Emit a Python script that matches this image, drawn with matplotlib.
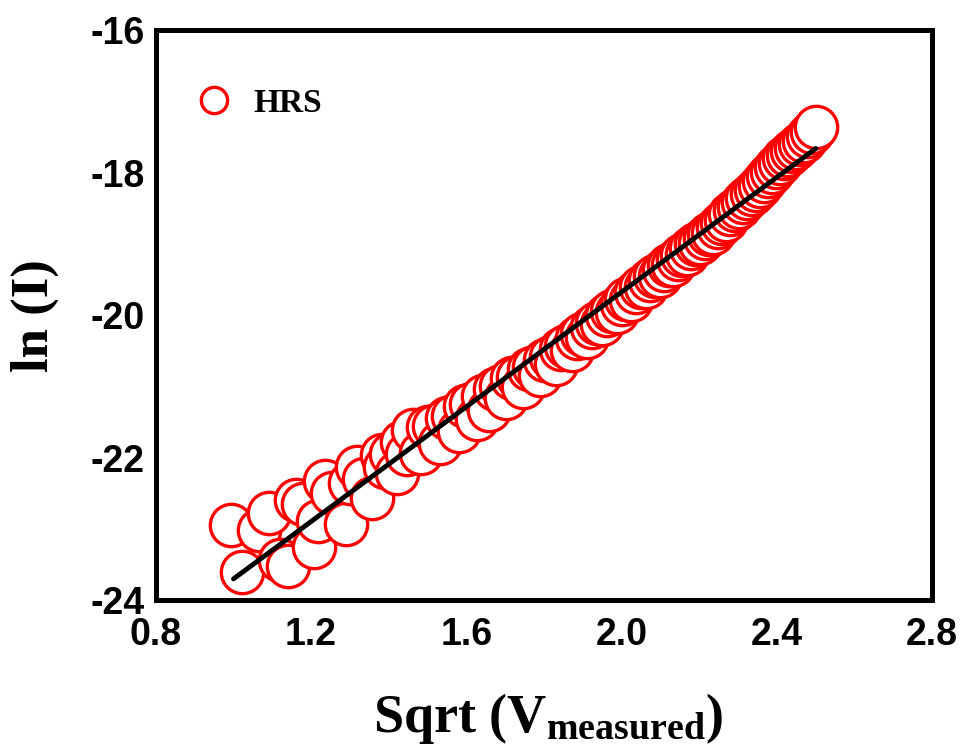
import matplotlib
matplotlib.use('Agg')
import matplotlib.pyplot as plt

# ln(I) vs sqrt(V) for the HRS branch
sqrt_v = [0.993, 1.022, 1.066, 1.091, 1.121, 1.141, 1.161, 1.180, 1.207, 1.218,
          1.236, 1.254, 1.289, 1.300, 1.317, 1.335, 1.357, 1.382, 1.390, 1.405,
          1.422, 1.433, 1.447, 1.462,
          1.483, 1.500, 1.517, 1.533, 1.549, 1.565, 1.581, 1.597, 1.612, 1.628,
          1.643, 1.658, 1.673, 1.688, 1.703, 1.718, 1.732, 1.746, 1.761, 1.775,
          1.789, 1.803, 1.817, 1.830, 1.844, 1.857, 1.871, 1.884, 1.897, 1.910,
          1.924, 1.936, 1.949, 1.962, 1.975, 1.987, 2.000, 2.012, 2.025, 2.037,
          2.049, 2.062, 2.074, 2.086, 2.098, 2.110, 2.121, 2.133, 2.145, 2.156,
          2.168, 2.179, 2.191, 2.202, 2.214, 2.225, 2.236, 2.247, 2.258, 2.269,
          2.280, 2.291, 2.302, 2.313, 2.324, 2.335, 2.345, 2.356, 2.366, 2.377,
          2.387, 2.398, 2.408, 2.419, 2.429, 2.439, 2.449, 2.460, 2.470, 2.480,
          2.490, 2.500]
ln_i = [-22.95, -23.61, -23.02, -22.77, -23.43, -23.52, -22.59, -22.65, -23.25, -22.89,
        -22.33, -22.50, -22.93, -22.36, -22.13, -22.30, -22.56, -21.96, -22.13, -21.95,
        -22.22, -21.78, -21.95, -21.61,
        -21.94, -21.57, -21.55, -21.79, -21.44, -21.41, -21.62, -21.28, -21.25, -21.45,
        -21.14, -21.33, -21.03, -20.99, -21.16, -20.88, -20.86, -21.00, -20.76, -20.72,
        -20.84, -20.63, -20.59, -20.68, -20.48, -20.43, -20.49, -20.32, -20.27, -20.30,
        -20.16, -20.11, -20.12, -20.00, -19.94, -19.95, -19.84, -19.77, -19.78, -19.67,
        -19.61, -19.60, -19.51, -19.45, -19.45, -19.36, -19.30, -19.29, -19.21, -19.15,
        -19.14, -19.06, -19.00, -18.99, -18.91, -18.86, -18.84, -18.76, -18.70, -18.66,
        -18.58, -18.52, -18.48, -18.41, -18.35, -18.30, -18.24, -18.18, -18.12, -18.05,
        -17.99, -17.92, -17.86, -17.80, -17.75, -17.70, -17.65, -17.60, -17.55, -17.49,
        -17.43, -17.36]

# linear fit drawn over the data (end points)
fit_x = [1.0, 2.5]
fit_y = [-23.70, -17.66]

x_ticks = [0.8, 1.2, 1.6, 2.0, 2.4, 2.8]
y_ticks = [-24, -22, -20, -18, -16]

plt.rcParams['mathtext.fontset'] = 'custom'
plt.rcParams['mathtext.rm'] = 'Liberation Serif:bold'
plt.rcParams['mathtext.bf'] = 'Liberation Serif:bold'
plt.rcParams['mathtext.it'] = 'Liberation Serif:bold'

fig = plt.figure(figsize=(9.68, 7.56), dpi=100)
ax = fig.add_axes([0.161, 0.206, 0.802, 0.754])

ax.plot(sqrt_v, ln_i, 'o', markersize=30.5, markerfacecolor='white',
        markeredgecolor='red', markeredgewidth=2.4, label='HRS', zorder=2)
ax.plot(fit_x, fit_y, color='black', linewidth=3.5, solid_capstyle='round', zorder=3)

ax.set_xlim(0.8, 2.8)
ax.set_ylim(-24, -16)
ax.set_xticks(x_ticks)
ax.set_xticklabels(['%.1f' % t for t in x_ticks])
ax.set_yticks(y_ticks)
ax.set_yticklabels(['%d' % t for t in y_ticks])

for lab in ax.get_xticklabels() + ax.get_yticklabels():
    lab.set_family('Liberation Sans')
    lab.set_fontweight('bold')
    lab.set_fontsize(27)
ax.tick_params(axis='both', length=0)
ax.tick_params(axis='x', pad=12)
ax.tick_params(axis='y', pad=8)

for sp in ax.spines.values():
    sp.set_linewidth(3.6)

ax.set_xlabel(r'Sqrt (V$_{\rm measured}$)', fontsize=39, family='Liberation Serif',
              fontweight='bold')
ax.xaxis.set_label_coords(0.505, -0.16)
ax.set_ylabel('ln (I)', fontsize=38, family='Liberation Serif', fontweight='bold')
ax.yaxis.set_label_coords(-0.125, 0.5)

leg = ax.legend(loc='upper left', bbox_to_anchor=(0.01, 0.952), frameon=False,
                markerscale=0.62, handlelength=1.2, handletextpad=0.6,
                prop={'family': 'Liberation Serif', 'weight': 'bold', 'size': 24})

fig.savefig('out.png', dpi=100)
